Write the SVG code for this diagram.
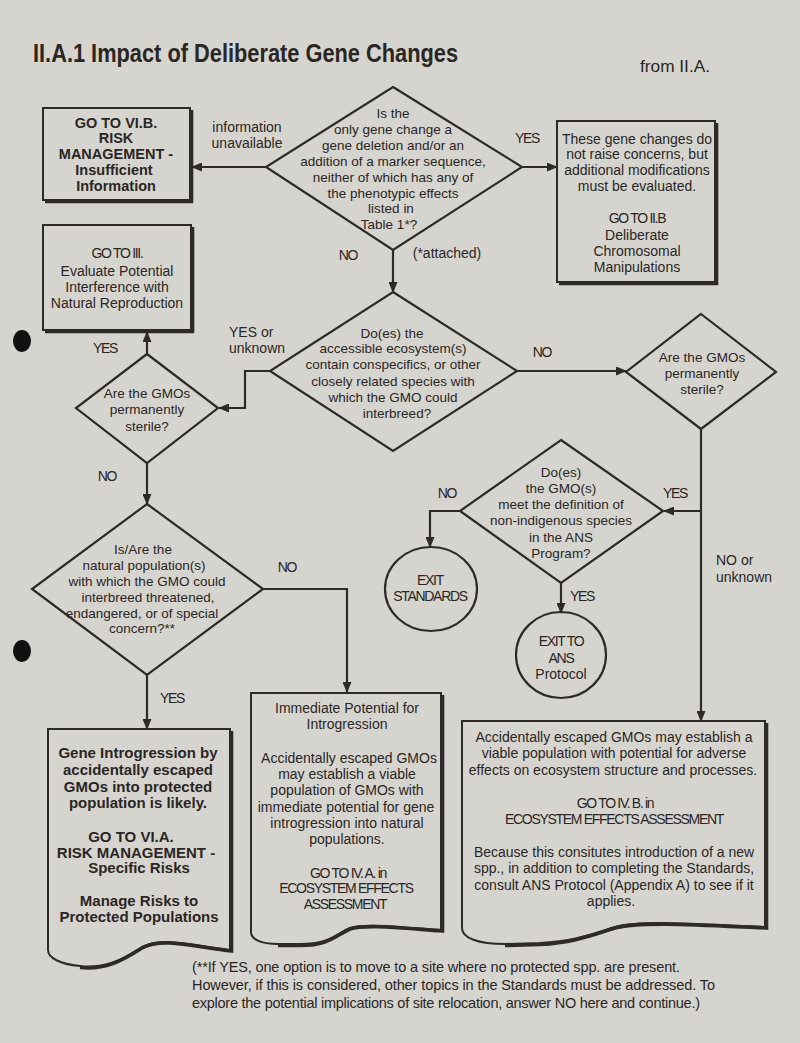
<svg xmlns="http://www.w3.org/2000/svg" width="800" height="1043" viewBox="0 0 800 1043">
<defs>
<marker id="ah" markerUnits="userSpaceOnUse" markerWidth="11" markerHeight="9" refX="10" refY="4.5" orient="auto">
<path d="M0,0 L11,4.5 L0,9 Z" fill="#2e2a28"/>
</marker>
<style>
.ln{fill:none;stroke:#2e2a28;stroke-width:2}
.nd{fill:none;stroke:#2e2a28;stroke-width:2.2}
.sh{fill:none;stroke:#2e2a28;stroke-width:3.6}
.cn{fill:none;stroke:#2e2a28;stroke-width:2.2;marker-end:url(#ah)}
text{font-family:"Liberation Sans",Arial,Helvetica,sans-serif;font-size:14px;fill:#2a2624;text-anchor:middle}
.d{font-size:13.5px}
.b{font-weight:bold;font-size:14.5px}
.bb{font-weight:bold;font-size:15px}
.c{letter-spacing:-1.3px}
.l{text-anchor:start}
</style>
</defs>
<rect x="0" y="0" width="800" height="1043" fill="#d6d4ce"/>
<ellipse cx="22" cy="341" rx="9" ry="11" fill="#111"/>
<ellipse cx="22" cy="651" rx="9" ry="11" fill="#111"/>

<text x="33" y="62" class="l" style="font-weight:bold;font-size:26px" textLength="425" lengthAdjust="spacingAndGlyphs">II.A.1 Impact of Deliberate Gene Changes</text>
<text x="640" y="72" class="l" style="font-size:16px" textLength="70" lengthAdjust="spacingAndGlyphs">from II.A.</text>

<g id="connectors">
<path class="cn" d="M266,167 H192"/>
<path class="cn" d="M522,167 H557"/>
<path class="cn" d="M393,250 V292"/>
<path class="cn" d="M270,371 H245 V408 H219"/>
<path class="cn" d="M147,354 V332"/>
<path class="cn" d="M147,463 V504"/>
<path class="cn" d="M517,371 H626"/>
<path class="cn" d="M263,589 H347 V692"/>
<path class="cn" d="M147,675 V729"/>
<path class="cn" d="M701,429 V721"/>
<path class="cn" d="M701,511 H664"/>
<path class="cn" d="M460,511 H430 V547"/>
<path class="cn" d="M561,583 V613"/>
<text x="247" y="132">information</text>
<text x="247" y="148">unavailable</text>
<text x="527" y="143" class="c">YES</text>
<text x="348" y="260" class="c">NO</text>
<text x="447" y="258">(*attached)</text>
<text x="229" y="337" class="l">YES or</text>
<text x="229" y="353" class="l">unknown</text>
<text x="105" y="353" class="c">YES</text>
<text x="107" y="481" class="c">NO</text>
<text x="542" y="357" class="c">NO</text>
<text x="287" y="572" class="c">NO</text>
<text x="172" y="703" class="c">YES</text>
<text x="675" y="498" class="c">YES</text>
<text x="447" y="498" class="c">NO</text>
<text x="582" y="601" class="c">YES</text>
<text x="716" y="565" class="l">NO or</text>
<text x="716" y="582" class="l">unknown</text>
</g>

<g id="q-gene-change">
<polygon class="nd" points="393,87 522,167 393,250 266,167"/>
<text class="d" x="393" y="118">Is the</text>
<text class="d" x="393" y="134">only gene change a</text>
<text class="d" x="393" y="150">gene deletion and/or an</text>
<text class="d" x="393" y="166">addition of a marker sequence,</text>
<text class="d" x="393" y="182">neither of which has any of</text>
<text class="d" x="393" y="198">the phenotypic effects</text>
<text class="d" x="391" y="213">listed in</text>
<text class="d" x="389" y="229">Table 1*?</text>
</g>

<g id="box-risk-insufficient">
<rect class="ln" x="43" y="108" width="147" height="92" fill="none"/>
<path class="sh" d="M191.5,110 V201.5 H45"/>
<text class="b" x="116" y="128">GO TO VI.B.</text>
<text class="b" x="116" y="143">RISK</text>
<text class="b" x="116" y="159">MANAGEMENT -</text>
<text class="b" x="114" y="175">Insufficient</text>
<text class="b" x="116" y="191">Information</text>
</g>

<g id="box-go-iii">
<rect class="ln" x="43" y="225" width="148" height="105" fill="none"/>
<path class="sh" d="M192.5,227 V331.5 H45"/>
<text x="117" y="258" class="c">GO TO III.</text>
<text x="117" y="276">Evaluate Potential</text>
<text x="117" y="292">Interference with</text>
<text x="117" y="308">Natural Reproduction</text>
</g>

<g id="box-no-concern">
<rect class="ln" x="557" y="121" width="158" height="161" fill="none"/>
<path class="sh" d="M716.5,123 V283.5 H559"/>
<text x="637" y="144">These gene changes do</text>
<text x="637" y="159">not raise concerns, but</text>
<text x="637" y="175">additional modifications</text>
<text x="637" y="191">must be evaluated.</text>
<text x="637" y="223" class="c">GO TO II.B</text>
<text x="637" y="240">Deliberate</text>
<text x="637" y="256">Chromosomal</text>
<text x="637" y="272">Manipulations</text>
</g>

<g id="q-ecosystem">
<polygon class="nd" points="393,292 517,371 393,451 270,371"/>
<text class="d" x="392" y="338">Do(es) the</text>
<text class="d" x="393" y="353">accessible ecosystem(s)</text>
<text class="d" x="393" y="369">contain conspecifics, or other</text>
<text class="d" x="393" y="386">closely related species with</text>
<text class="d" x="393" y="402">which the GMO could</text>
<text class="d" x="397" y="418">interbreed?</text>
</g>

<g id="q-sterile-left">
<polygon class="nd" points="147,354 218,408 147,463 76,408"/>
<text class="d" x="147" y="398">Are the GMOs</text>
<text class="d" x="147" y="414">permanently</text>
<text class="d" x="147" y="431">sterile?</text>
</g>

<g id="q-sterile-right">
<polygon class="nd" points="701,314 776,372 701,429 626,372"/>
<text class="d" x="702" y="362">Are the GMOs</text>
<text class="d" x="702" y="378">permanently</text>
<text class="d" x="702" y="394">sterile?</text>
</g>

<g id="q-natural-pop">
<polygon class="nd" points="147,504 263,589 147,675 32,589"/>
<text class="d" x="143" y="554">Is/Are the</text>
<text class="d" x="144" y="570">natural population(s)</text>
<text class="d" x="147" y="586">with which the GMO could</text>
<text class="d" x="148" y="602">interbreed  threatened,</text>
<text class="d" x="142" y="618">endangered, or of special</text>
<text class="d" x="142" y="633">concern?**</text>
</g>

<g id="q-non-indigenous">
<polygon class="nd" points="561,440 663,511 561,583 460,511"/>
<text class="d" x="561" y="477">Do(es)</text>
<text class="d" x="561" y="493">the GMO(s)</text>
<text class="d" x="561" y="509">meet the definition of</text>
<text class="d" x="561" y="525">non-indigenous species</text>
<text class="d" x="561" y="542">in the ANS</text>
<text class="d" x="561" y="558">Program?</text>
</g>

<g id="exit-standards">
<ellipse class="nd" cx="431" cy="589" rx="46" ry="42"/>
<text x="430" y="585" class="c">EXIT</text>
<text x="430" y="601" class="c">STANDARDS</text>
</g>

<g id="exit-ans">
<ellipse class="nd" cx="561" cy="655" rx="45" ry="43"/>
<text x="561" y="646" class="c">EXIT TO</text>
<text x="561" y="663" class="c">ANS</text>
<text x="561" y="679">Protocol</text>
</g>

<g id="doc-gene-introgression">
<path class="ln" d="M48,729 H230 V950 C195,946 162,936 142,947 C122,960 105,969 80,966 C60,964 48,958 48,950 Z"/>
<path class="sh" d="M231.5,731 V951 C195,947 162,937 142,948 C122,961 105,970 80,967.5"/>
<text class="bb" x="138" y="758">Gene Introgression by</text>
<text class="bb" x="138" y="775">accidentally escaped</text>
<text class="bb" x="138" y="792">GMOs into protected</text>
<text class="bb" x="138" y="808">population is likely.</text>
<text class="bb" x="131" y="842">GO TO VI.A.</text>
<text class="bb" x="136" y="858">RISK MANAGEMENT -</text>
<text class="bb" x="139" y="873">Specific Risks</text>
<text class="bb" x="139" y="906">Manage Risks to</text>
<text class="bb" x="139" y="922">Protected Populations</text>
</g>

<g id="doc-immediate-potential">
<path class="ln" d="M251,693 H441 V930 C400,927 365,923 350,928 C336,934 330,944 300,944 L278,944 C260,944 251,939 251,932 Z"/>
<path class="sh" d="M442.5,695 V931 C400,928 365,924 350,929 C336,935 330,945.5 300,945.5 L278,945.5"/>
<text x="347" y="713">Immediate Potential for</text>
<text x="347" y="729">Introgression</text>
<text x="349" y="763">Accidentally escaped GMOs</text>
<text x="347" y="779">may establish a viable</text>
<text x="347" y="795">population of GMOs with</text>
<text x="346" y="812">immediate potential for gene</text>
<text x="347" y="828">introgression into natural</text>
<text x="347" y="844">populations.</text>
<text x="348" y="878" class="c">GO TO IV. A. in</text>
<text x="346" y="893" class="c">ECOSYSTEM EFFECTS</text>
<text x="345" y="909" class="c">ASSESSMENT</text>
</g>

<g id="doc-ecosystem-effects">
<path class="ln" d="M462,721 H765 V927 C700,924 640,920 615,927 C592,934 575,941 540,943 L505,944 C478,944 462,938 462,928 Z"/>
<path class="sh" d="M766.5,723 V928 C700,925 640,921 615,928 C592,935 575,942.5 540,944.5 L505,945.5"/>
<text x="614" y="742">Accidentally escaped GMOs may establish a</text>
<text x="614" y="758">viable population  with potential for adverse</text>
<text x="613" y="775">effects on ecosystem structure and processes.</text>
<text x="615" y="808" class="c">GO TO IV. B. in</text>
<text x="614" y="824" class="c">ECOSYSTEM EFFECTS ASSESSMENT</text>
<text x="614" y="857">Because this consitutes introduction of a new</text>
<text x="614" y="873">spp., in addition to completing the Standards,</text>
<text x="614" y="890">consult ANS Protocol (Appendix A) to see if it</text>
<text x="611" y="906">applies.</text>
</g>

<g id="footnote">
<text x="192" y="972" class="l" style="font-size:14.5px" textLength="488" lengthAdjust="spacing">(**If YES, one option is to move to  a site where no protected spp. are present.</text>
<text x="192" y="990" class="l" style="font-size:14.5px" textLength="523" lengthAdjust="spacing">However, if this is considered, other topics in the Standards must be addressed.  To</text>
<text x="192" y="1008" class="l" style="font-size:14.5px" textLength="508" lengthAdjust="spacing">explore the potential implications of site relocation, answer NO here and continue.)</text>
</g>
</svg>
